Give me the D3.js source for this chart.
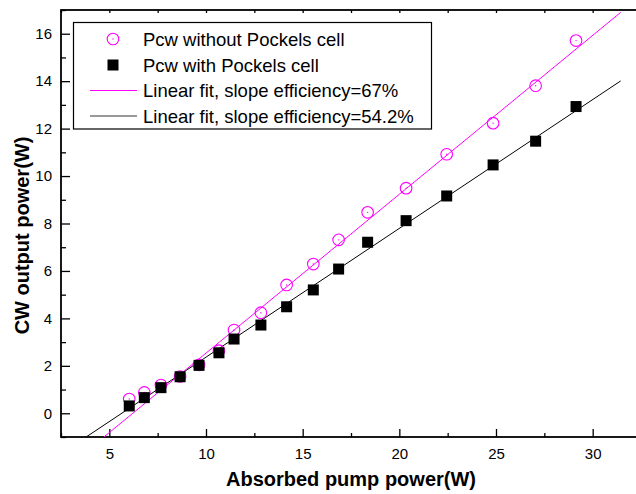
<!DOCTYPE html>
<html><head><meta charset="utf-8">
<script src="https://cdn.jsdelivr.net/npm/d3@7"></script>
<style>
html,body{margin:0;padding:0;background:#fff;}
svg{display:block;font-family:"Liberation Sans",Arial,sans-serif;}
</style></head>
<body>
<script>
// ---- data ----
const pumpWithout = [6.03, 6.81, 7.67, 8.66, 9.64, 10.67, 11.45, 12.84, 14.17, 15.55, 16.86, 18.36, 20.35, 22.45, 24.85, 27.05, 29.14];
const powerWithout = [0.60, 0.88, 1.19, 1.55, 2.04, 2.64, 3.51, 4.24, 5.41, 6.29, 7.31, 8.47, 9.49, 10.92, 12.23, 13.81, 15.71];
const pumpWith = [6.03, 6.81, 7.67, 8.66, 9.64, 10.67, 11.45, 12.84, 14.17, 15.55, 16.86, 18.36, 20.35, 22.45, 24.85, 27.05, 29.14];
const powerWith = [0.31, 0.66, 1.08, 1.54, 2.02, 2.55, 3.13, 3.72, 4.49, 5.20, 6.08, 7.21, 8.12, 9.16, 10.47, 11.47, 12.93];
const fitWithoutX = [4.72, 31.45];
const fitWithoutY = [-1.0, 16.90];
const fitWithX = [3.80, 31.45];
const fitWithY = [-1.0, 14.01];
const xTicks = [5, 10, 15, 20, 25, 30];
const xMinor = [2.5, 7.5, 12.5, 17.5, 22.5, 27.5, 32.5];
const yTicks = [0, 2, 4, 6, 8, 10, 12, 14, 16];
const yMinor = [-1, 1, 3, 5, 7, 9, 11, 13, 15, 17];
const legendLabels = ["Pcw without Pockels cell", "Pcw with Pockels cell", "Linear fit, slope efficiency=67%", "Linear fit, slope efficiency=54.2%"];
const xTitle = "Absorbed pump power(W)";
const yTitle = "CW output power(W)";

const W = 636, H = 494;
const L = 61, R = 641, T = 10, B = 437;
const MAG = "#ff00ff";

const svg = d3.select("body").append("svg").attr("width", W).attr("height", H);
const x = d3.scaleLinear().domain([2.5, 32.5]).range([L, R]);
const y = d3.scaleLinear().domain([-1, 17]).range([B, T]);

svg.append("defs").append("clipPath").attr("id", "clip")
  .append("rect").attr("x", L).attr("y", T).attr("width", R - L).attr("height", B - T);

// axes with inward ticks
const fs = 15;
const gx = svg.append("g").attr("transform", `translate(0,${B})`)
  .call(d3.axisBottom(x).tickValues(xTicks).tickSize(-8).tickPadding(11).tickFormat(d3.format("d")));
gx.select(".domain").remove();
gx.selectAll("text").attr("font-size", fs).attr("font-family", "Liberation Sans, Arial").attr("fill", "#000");
gx.selectAll("line").attr("stroke", "#000").attr("stroke-width", 1.3);
const gxm = svg.append("g").attr("transform", `translate(0,${B})`)
  .call(d3.axisBottom(x).tickValues(xMinor).tickSize(-4).tickFormat(""));
gxm.select(".domain").remove();
gxm.selectAll("line").attr("stroke", "#000").attr("stroke-width", 1.3);

const gxt = svg.append("g").attr("transform", `translate(0,${T})`)
  .call(d3.axisTop(x).tickValues(xTicks.concat(xMinor)).tickSize(-3).tickFormat(""));
gxt.select(".domain").remove();
gxt.selectAll("line").attr("stroke", "#000").attr("stroke-width", 1.3);

const gy = svg.append("g").attr("transform", `translate(${L},0)`)
  .call(d3.axisLeft(y).tickValues(yTicks).tickSize(-9).tickPadding(9).tickFormat(d3.format("d")));
gy.select(".domain").remove();
gy.selectAll("text").attr("font-size", fs).attr("font-family", "Liberation Sans, Arial").attr("fill", "#000");
gy.selectAll("line").attr("stroke", "#000").attr("stroke-width", 1.3);
const gym = svg.append("g").attr("transform", `translate(${L},0)`)
  .call(d3.axisLeft(y).tickValues(yMinor).tickSize(-5).tickFormat(""));
gym.select(".domain").remove();
gym.selectAll("line").attr("stroke", "#000").attr("stroke-width", 1.3);

// frame
svg.append("rect").attr("x", L).attr("y", T).attr("width", R - L).attr("height", B - T)
  .attr("fill", "none").attr("stroke", "#000").attr("stroke-width", 1.8);

// fit lines
const plot = svg.append("g").attr("clip-path", "url(#clip)");
const line = d3.line().x(d => x(d[0])).y(d => y(d[1]));
plot.append("path").datum(fitWithX.map((v, i) => [v, fitWithY[i]]))
  .attr("d", line).attr("fill", "none").attr("stroke", "#000").attr("stroke-width", 1);
plot.append("path").datum(fitWithoutX.map((v, i) => [v, fitWithoutY[i]]))
  .attr("d", line).attr("fill", "none").attr("stroke", MAG).attr("stroke-width", 1);

// markers: circles (without)
const circData = pumpWithout.map((v, i) => [v, powerWithout[i]]);
plot.selectAll("circle.o").data(circData).enter().append("circle")
  .attr("cx", d => x(d[0])).attr("cy", d => y(d[1])).attr("r", 5.8)
  .attr("fill", "none").attr("stroke", MAG).attr("stroke-width", 1.1);
plot.selectAll("circle.dot").data(circData).enter().append("circle")
  .attr("cx", d => x(d[0])).attr("cy", d => y(d[1])).attr("r", 0.7).attr("fill", MAG);

// squares (with)
const sq = 11;
const sqData = pumpWith.map((v, i) => [v, powerWith[i]]);
plot.selectAll("rect.s").data(sqData).enter().append("rect")
  .attr("x", d => x(d[0]) - sq / 2).attr("y", d => y(d[1]) - sq / 2)
  .attr("width", sq).attr("height", sq).attr("fill", "#000");

// legend
const lg = svg.append("g");
lg.append("rect").attr("x", 73.5).attr("y", 22.5).attr("width", 358).attr("height", 106.5)
  .attr("fill", "#fff").attr("stroke", "#000").attr("stroke-width", 1.2);
const rowY = [39, 65, 90.5, 116];
lg.append("circle").attr("cx", 113).attr("cy", rowY[0]).attr("r", 5.8).attr("fill", "none").attr("stroke", MAG).attr("stroke-width", 1.1);
lg.append("circle").attr("cx", 113).attr("cy", rowY[0]).attr("r", 0.7).attr("fill", MAG);
lg.append("rect").attr("x", 113 - sq / 2).attr("y", rowY[1] - sq / 2).attr("width", sq).attr("height", sq).attr("fill", "#000");
lg.append("line").attr("x1", 90).attr("x2", 137).attr("y1", rowY[2]).attr("y2", rowY[2]).attr("stroke", MAG).attr("stroke-width", 1);
lg.append("line").attr("x1", 90).attr("x2", 137).attr("y1", rowY[3]).attr("y2", rowY[3]).attr("stroke", "#333").attr("stroke-width", 1);
lg.selectAll("text.l").data(legendLabels).enter().append("text")
  .attr("x", 143).attr("y", (d, i) => rowY[i] + 6.6)
  .attr("font-size", 18.5).attr("fill", "#000").text(d => d);

// titles
svg.append("text").attr("x", (L + R) / 2).attr("y", 486).attr("text-anchor", "middle")
  .attr("font-size", 20).attr("font-weight", "bold").text(xTitle);
svg.append("text").attr("transform", `translate(29,${(T + B) / 2 + 12}) rotate(-90)`).attr("text-anchor", "middle")
  .attr("font-size", 20).attr("font-weight", "bold").text(yTitle);
</script>
</body></html>
